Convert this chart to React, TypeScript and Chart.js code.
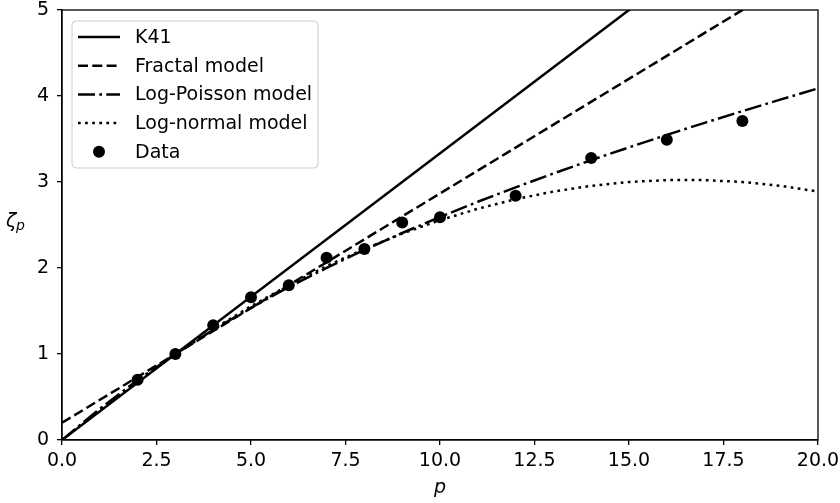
import React, { useEffect, useRef } from "react";
import { Chart, registerables } from "chart.js";

Chart.register(...registerables);

// p values for the model curves
const modelP = [0, 1, 2, 3, 4, 5, 6, 7, 8, 9, 10, 11, 12, 13, 14, 15, 16, 17, 18, 19, 20];
// K41 (straight line)
const k41P = [0, 20];
const k41Zeta = [0, 6.667];
// Fractal model (straight line)
const fractalP = [0, 20];
const fractalZeta = [0.2, 5.533];
// Log-Poisson model
const logPoissonZeta = [0, 0.364, 0.696, 1.0, 1.28, 1.538, 1.778, 2.001, 2.211, 2.407, 2.593, 2.77, 2.938, 3.099, 3.254, 3.403, 3.548, 3.688, 3.824, 3.958, 4.088];
// Log-normal model
const logNormalZeta = [0, 0.356, 0.689, 1.0, 1.289, 1.556, 1.8, 2.022, 2.222, 2.4, 2.556, 2.689, 2.8, 2.889, 2.956, 3.0, 3.022, 3.022, 3.0, 2.956, 2.889];
// Measured data
const dataP = [2, 3, 4, 5, 6, 7, 8, 9, 10, 12, 14, 16, 18];
const dataZeta = [0.7, 1.0, 1.335, 1.66, 1.8, 2.12, 2.22, 2.53, 2.59, 2.84, 3.28, 3.49, 3.71];

const seriesNames = ["K41", "Fractal model", "Log-Poisson model", "Log-normal model", "Data"];
const xTicks = [0, 2.5, 5, 7.5, 10, 12.5, 15, 17.5, 20];

const FONT = "DejaVu Sans";
const FS = 19;
const LW = 2.5;

const pts = (xs: number[], ys: number[]) => xs.map((x, i) => ({ x, y: ys[i] }));

const decorPlugin = {
  id: "decor",
  afterDraw(chart: any) {
    const ctx = chart.ctx as CanvasRenderingContext2D;
    const ca = chart.chartArea;
    ctx.save();
    // frame (spines)
    ctx.strokeStyle = "#000";
    ctx.lineWidth = 1.3;
    ctx.setLineDash([]);
    ctx.strokeRect(ca.left, ca.top, ca.right - ca.left, ca.bottom - ca.top);

    // axis titles
    ctx.fillStyle = "#000";
    ctx.textBaseline = "alphabetic";
    ctx.textAlign = "left";
    ctx.font = `italic ${FS}px ${FONT}`;
    ctx.fillText("ζ", 6, 227);
    ctx.font = `italic 14px ${FONT}`;
    ctx.fillText("p", 16, 230);
    ctx.font = `italic ${FS}px ${FONT}`;
    ctx.textAlign = "center";
    ctx.fillText("p", (ca.left + ca.right) / 2, 493);

    // legend
    const bx = ca.left + 10, by = ca.top + 11, bw = 246, bh = 147, r = 4;
    ctx.beginPath();
    ctx.moveTo(bx + r, by);
    ctx.lineTo(bx + bw - r, by);
    ctx.quadraticCurveTo(bx + bw, by, bx + bw, by + r);
    ctx.lineTo(bx + bw, by + bh - r);
    ctx.quadraticCurveTo(bx + bw, by + bh, bx + bw - r, by + bh);
    ctx.lineTo(bx + r, by + bh);
    ctx.quadraticCurveTo(bx, by + bh, bx, by + bh - r);
    ctx.lineTo(bx, by + r);
    ctx.quadraticCurveTo(bx, by, bx + r, by);
    ctx.closePath();
    ctx.fillStyle = "rgba(255,255,255,0.8)";
    ctx.fill();
    ctx.strokeStyle = "#cccccc";
    ctx.lineWidth = 1;
    ctx.stroke();

    const datasets = chart.data.datasets;
    ctx.font = `${FS}px ${FONT}`;
    ctx.textAlign = "left";
    ctx.textBaseline = "middle";
    datasets.forEach((ds: any, i: number) => {
      const y = by + 16 + i * 28.7;
      if (ds.showLine) {
        ctx.beginPath();
        ctx.setLineDash(ds.borderDash || []);
        ctx.lineWidth = ds.borderWidth;
        ctx.strokeStyle = "#000";
        ctx.moveTo(bx + 6, y);
        ctx.lineTo(bx + 48, y);
        ctx.stroke();
        ctx.setLineDash([]);
      } else {
        ctx.beginPath();
        ctx.arc(bx + 27, y, 6, 0, Math.PI * 2);
        ctx.fillStyle = "#000";
        ctx.fill();
      }
      ctx.fillStyle = "#000";
      ctx.fillText(ds.label, bx + 63, y + 1);
    });
    ctx.restore();
  },
};

export default function App() {
  const ref = useRef<HTMLCanvasElement | null>(null);
  useEffect(() => {
    document.body.style.margin = "0";
    const canvas = ref.current!;
    const lineDs = (label: string, data: any[], dash: number[]) => ({
      label,
      data,
      showLine: true,
      borderColor: "#000",
      backgroundColor: "#000",
      borderWidth: LW,
      borderDash: dash,
      pointRadius: 0,
      pointHoverRadius: 0,
      tension: 0,
    });
    const chart = new Chart(canvas, {
      type: "scatter",
      data: {
        datasets: [
          lineDs(seriesNames[0], pts(k41P, k41Zeta), []),
          lineDs(seriesNames[1], pts(fractalP, fractalZeta), [10, 4.3]),
          lineDs(seriesNames[2], pts(modelP, logPoissonZeta), [17, 4.3, 2.7, 4.3]),
          lineDs(seriesNames[3], pts(modelP, logNormalZeta), [2.7, 4.4]),
          {
            label: seriesNames[4],
            data: pts(dataP, dataZeta),
            showLine: false,
            pointRadius: 6,
            pointBackgroundColor: "#000",
            pointBorderColor: "#000",
            pointBorderWidth: 0,
            order: -1,
          } as any,
        ],
      },
      options: {
        animation: false,
        responsive: false,
        events: [],
        layout: { padding: { top: 10, right: 22, left: 0, bottom: 0 } },
        plugins: { legend: { display: false }, tooltip: { enabled: false } },
        scales: {
          x: {
            type: "linear",
            min: 0,
            max: 20,
            afterFit: (s: any) => { s.height = 63; s.paddingLeft = 0; s.paddingRight = 0; },
            afterBuildTicks: (s: any) => { s.ticks = xTicks.map((v) => ({ value: v })); },
            grid: { drawOnChartArea: false, drawTicks: true, tickLength: 5, color: "#000", lineWidth: 1.3 },
            border: { display: true, color: "#000", width: 1.3 },
            ticks: {
              color: "#000",
              font: { family: FONT, size: FS },
              padding: 5,
              maxRotation: 0,
              autoSkip: false,
              callback: (v: any) => Number(v).toFixed(1),
            },
          },
          y: {
            type: "linear",
            min: 0,
            max: 5,
            afterFit: (s: any) => { s.width = 62; s.paddingTop = 0; s.paddingBottom = 0; },
            grid: { drawOnChartArea: false, drawTicks: true, tickLength: 5, color: "#000", lineWidth: 1.3 },
            border: { display: true, color: "#000", width: 1.3 },
            ticks: {
              color: "#000",
              font: { family: FONT, size: FS },
              padding: 8,
              stepSize: 1,
              callback: (v: any) => String(v),
            },
          },
        },
      },
      plugins: [decorPlugin],
    });
    return () => chart.destroy();
  }, []);
  return (
    <div style={{ width: 840, height: 503 }}>
      <canvas ref={ref} width={840} height={503} style={{ display: "block" }} />
    </div>
  );
}
